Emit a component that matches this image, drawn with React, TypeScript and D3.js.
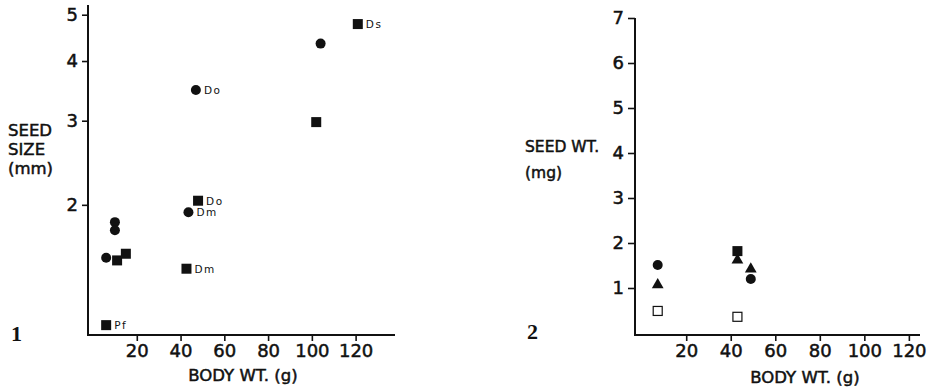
import { useEffect, useRef } from "react";
import * as d3 from "d3";

// Panel 1: seed size (mm, log axis) vs body weight (g)
const sizeCircles = [
  { x: 104, y: 4.35, label: "" },
  { x: 47, y: 3.48, label: "Do" },
  { x: 43.6, y: 1.93, label: "Dm" },
  { x: 10, y: 1.84, label: "" },
  { x: 10, y: 1.77, label: "" },
  { x: 6, y: 1.55, label: "" },
];
const sizeSquares = [
  { x: 121, y: 4.78, label: "Ds" },
  { x: 102, y: 2.98, label: "" },
  { x: 48, y: 2.04, label: "Do" },
  { x: 11, y: 1.53, label: "" },
  { x: 15, y: 1.58, label: "" },
  { x: 42.7, y: 1.47, label: "Dm" },
  { x: 6, y: 1.12, label: "Pf" },
];
const sizeYTicks = [2, 3, 4, 5];

// Panel 2: seed weight (mg) vs body weight (g)
const wtCircles = [
  { x: 7.2, y: 1.51 },
  { x: 49, y: 1.2 },
];
const wtTriangles = [
  { x: 7.2, y: 1.07 },
  { x: 43, y: 1.62 },
  { x: 49, y: 1.42 },
];
const wtSquares = [{ x: 43, y: 1.82 }];
const wtOpenSquares = [
  { x: 7.2, y: 0.49 },
  { x: 43, y: 0.36 },
];
const wtYTicks = [1, 2, 3, 4, 5, 6, 7];

const xTicks = [20, 40, 60, 80, 100, 120];

const FONT = "DejaVu Sans";
const INK = "#111";

export default function App() {
  const svgRef = useRef<SVGSVGElement>(null);

  useEffect(() => {
    if (!svgRef.current) return;
    const svg = d3.select(svgRef.current);
    svg.selectAll("*").remove();

    const baseY = 335;

    // heavier type like the printed figure
    const ink = (sel: any, size: string) =>
      sel.attr("fill", INK).attr("stroke", INK).attr("stroke-width", 0.5)
        .attr("font-family", FONT).attr("font-size", size);

    const styleAxis = (g: any) => {
      g.select(".domain").remove();
      g.selectAll(".tick line").attr("stroke", INK).attr("stroke-width", 1.6);
      g.selectAll(".tick text").call((t: any) => ink(t, "18px"));
    };

    // ---------- Panel 1 ----------
    const x1 = d3.scaleLinear().domain([-2.3, 138]).range([88, 395]);
    const y1 = d3.scaleLog().domain([1.068, 5.24]).range([baseY, 5]);
    const p1 = svg.append("g");

    p1.append("g")
      .attr("transform", `translate(0,${baseY})`)
      .call(d3.axisBottom(x1).tickValues(xTicks).tickSize(6).tickPadding(3).tickFormat(d3.format("d")))
      .call(styleAxis);
    p1.append("g")
      .attr("transform", `translate(88,0)`)
      .call(d3.axisLeft(y1).tickValues(sizeYTicks).tickSize(6).tickPadding(4).tickFormat(d3.format("d")))
      .call(styleAxis);
    p1.append("line").attr("x1", 88).attr("x2", 88).attr("y1", 5).attr("y2", baseY + 1)
      .attr("stroke", INK).attr("stroke-width", 2);
    p1.append("line").attr("x1", 87).attr("x2", 395).attr("y1", baseY).attr("y2", baseY)
      .attr("stroke", INK).attr("stroke-width", 2);

    p1.selectAll("circle.pt").data(sizeCircles).enter().append("circle")
      .attr("cx", (d) => x1(d.x)).attr("cy", (d) => y1(d.y)).attr("r", 5).attr("fill", INK);
    p1.selectAll("rect.pt").data(sizeSquares).enter().append("rect")
      .attr("x", (d) => x1(d.x) - 5).attr("y", (d) => y1(d.y) - 5)
      .attr("width", 10).attr("height", 10).attr("fill", INK);

    const labels = [...sizeCircles, ...sizeSquares].filter((d) => d.label);
    p1.selectAll("text.lbl").data(labels).enter().append("text")
      .attr("x", (d) => x1(d.x) + 8).attr("y", (d) => y1(d.y) + 4)
      .attr("font-family", FONT).attr("font-size", "10.5px").attr("letter-spacing", "1.5px")
      .attr("fill", INK).text((d) => d.label);

    ["SEED", "SIZE", "(mm)"].forEach((t, i) => {
      p1.append("text").attr("x", 8).attr("y", 136 + i * 19).call((s: any) => ink(s, "16.5px")).text(t);
    });
    p1.append("text").attr("x", 243).attr("y", 381).attr("text-anchor", "middle")
      .call((s: any) => ink(s, "16.5px")).text("BODY WT. (g)");
    p1.append("text").attr("x", 11).attr("y", 341)
      .attr("font-family", "Liberation Serif").attr("font-weight", "bold").attr("font-size", "22px")
      .attr("fill", INK).text("1");

    // ---------- Panel 2 ----------
    const x2 = d3.scaleLinear().domain([-3, 125]).range([635, 920]);
    const y2 = d3.scaleLinear().domain([0, 7]).range([333, 18]);
    const p2 = svg.append("g");

    p2.append("g")
      .attr("transform", `translate(0,${baseY})`)
      .call(d3.axisBottom(x2).tickValues(xTicks).tickSize(6).tickPadding(3).tickFormat(d3.format("d")))
      .call(styleAxis);
    p2.append("g")
      .attr("transform", `translate(635,0)`)
      .call(d3.axisLeft(y2).tickValues(wtYTicks).tickSize(7).tickPadding(4).tickFormat(d3.format("d")))
      .call(styleAxis);
    p2.append("line").attr("x1", 635).attr("x2", 635).attr("y1", y2(7)).attr("y2", baseY + 1)
      .attr("stroke", INK).attr("stroke-width", 2);
    p2.append("line").attr("x1", 634).attr("x2", 920).attr("y1", baseY).attr("y2", baseY)
      .attr("stroke", INK).attr("stroke-width", 2);

    p2.selectAll("circle.pt").data(wtCircles).enter().append("circle")
      .attr("cx", (d) => x2(d.x)).attr("cy", (d) => y2(d.y)).attr("r", 5).attr("fill", INK);
    p2.selectAll("path.tri").data(wtTriangles).enter().append("path")
      .attr("transform", (d) => `translate(${x2(d.x)},${y2(d.y)})`)
      .attr("d", d3.symbol(d3.symbolTriangle, 60)).attr("fill", INK);
    p2.selectAll("rect.fill").data(wtSquares).enter().append("rect")
      .attr("x", (d) => x2(d.x) - 5).attr("y", (d) => y2(d.y) - 5)
      .attr("width", 10).attr("height", 10).attr("fill", INK);
    p2.selectAll("rect.open").data(wtOpenSquares).enter().append("rect")
      .attr("x", (d) => x2(d.x) - 4.5).attr("y", (d) => y2(d.y) - 4.5)
      .attr("width", 9).attr("height", 9).attr("fill", "#fff")
      .attr("stroke", INK).attr("stroke-width", 1.2);

    p2.append("text").attr("x", 525).attr("y", 152).call((s: any) => ink(s, "15.5px")).text("SEED WT.");
    p2.append("text").attr("x", 525).attr("y", 178).call((s: any) => ink(s, "15.5px")).text("(mg)");
    p2.append("text").attr("x", 805).attr("y", 383).attr("text-anchor", "middle")
      .call((s: any) => ink(s, "16.5px")).text("BODY WT. (g)");
    p2.append("text").attr("x", 527).attr("y", 339)
      .attr("font-family", "Liberation Serif").attr("font-weight", "bold").attr("font-size", "22px")
      .attr("fill", INK).text("2");
  }, []);

  return (
    <svg
      ref={svgRef}
      width={928}
      height={387}
      style={{ position: "absolute", left: 0, top: 0, background: "#fff" }}
    />
  );
}
